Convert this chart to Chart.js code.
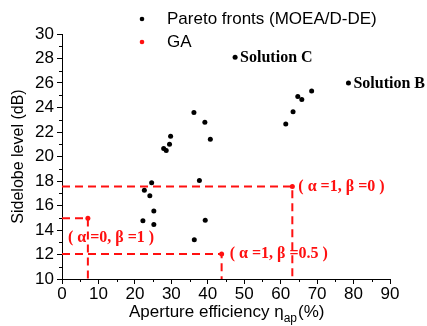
<!DOCTYPE html>
<html>
<head>
<meta charset="utf-8">
<script src="https://cdn.jsdelivr.net/npm/chart.js@4.4.1/dist/chart.umd.min.js"></script>
<style>
  html, body { margin: 0; padding: 0; background: #fff; }
  #wrap { width: 427px; height: 326px; }
</style>
</head>
<body>
<div id="wrap"><canvas id="chart" width="427" height="326"></canvas></div>
<script>
// Pareto fronts (MOEA/D-DE)
const paretoX = [47.5, 78.6, 64.7, 65.8, 68.5, 61.4, 63.4, 36.2, 39.2, 40.7, 27.9, 28.6, 29.5, 29.8, 37.7, 24.6, 22.6, 24.1, 25.2, 22.2, 25.2, 39.3, 36.3];
const paretoY = [28.1, 26.0, 24.9, 24.65, 25.35, 22.65, 23.65, 23.6, 22.8, 21.4, 20.65, 20.5, 21.0, 21.65, 18.05, 17.85, 17.25, 16.8, 15.55, 14.75, 14.45, 14.8, 13.2];

// GA solutions
const gaX = [7.1, 43.8, 63.2];
const gaY = [14.95, 12.05, 17.55];
const gaLabels = ['( α =0, β =1 )', '( α =1, β =0.5 )', '( α =1, β =0 )'];

const solutionLabels = [[0, 'Solution C'], [1, 'Solution B']];

const xTicks = [0, 10, 20, 30, 40, 50, 60, 70, 80, 90];
const yTicks = [10, 12, 14, 16, 18, 20, 22, 24, 26, 28, 30];

const RED = '#ff1010';
const SANS = '"Liberation Sans", Arial, sans-serif';
const SERIF = '"Liberation Serif", "Times New Roman", serif';

const pareto = paretoX.map((x, i) => ({ x, y: paretoY[i] }));
const ga = gaX.map((x, i) => ({ x, y: gaY[i] }));

// dashed guide lines: from y axis to the point, then down to the x axis
const guides = ga.map((p) => ({
  type: 'line',
  data: [{ x: xTicks[0], y: p.y }, { x: p.x, y: p.y }, { x: p.x, y: yTicks[0] }],
  showLine: true,
  borderColor: RED,
  borderWidth: 2,
  borderDash: [8, 5],
  pointRadius: 0,
  fill: false,
  tension: 0,
}));

const extras = {
  id: 'extras',
  afterDraw(c) {
    const { ctx, chartArea: a } = c;
    const xs = c.scales.x, ys = c.scales.y;
    ctx.save();

    // minor ticks
    ctx.strokeStyle = '#000';
    ctx.lineWidth = 1;
    ctx.beginPath();
    for (let i = 0; i < xTicks.length - 1; i++) {
      const px = Math.round(xs.getPixelForValue((xTicks[i] + xTicks[i + 1]) / 2)) + 0.5;
      ctx.moveTo(px, a.bottom);
      ctx.lineTo(px, a.bottom + 3);
    }
    for (let i = 0; i < yTicks.length - 1; i++) {
      const py = Math.round(ys.getPixelForValue((yTicks[i] + yTicks[i + 1]) / 2)) + 0.5;
      ctx.moveTo(a.left, py);
      ctx.lineTo(a.left - 3, py);
    }
    ctx.stroke();

    // legend
    ctx.textBaseline = 'middle';
    ctx.textAlign = 'left';
    ctx.font = '17px ' + SANS;
    ctx.fillStyle = '#000';
    ctx.beginPath(); ctx.arc(142, 19, 2.3, 0, Math.PI * 2); ctx.fill();
    ctx.fillText('Pareto fronts (MOEA/D-DE)', 167, 19);
    ctx.fillStyle = RED;
    ctx.beginPath(); ctx.arc(142, 42, 2.3, 0, Math.PI * 2); ctx.fill();
    ctx.fillStyle = '#000';
    ctx.fillText('GA', 167, 42);

    // solution labels
    ctx.font = 'bold 16px ' + SERIF;
    solutionLabels.forEach(([i, t]) => {
      ctx.fillText(t, xs.getPixelForValue(paretoX[i]) + 5, ys.getPixelForValue(paretoY[i]) + 1);
    });

    // GA labels
    ctx.fillStyle = RED;
    const offs = [[-20, 19], [8, 0], [6, 0]];
    ga.forEach((p, i) => {
      ctx.fillText(gaLabels[i], xs.getPixelForValue(p.x) + offs[i][0], ys.getPixelForValue(p.y) + offs[i][1]);
    });

    // axis titles
    ctx.fillStyle = '#000';
    ctx.textBaseline = 'alphabetic';
    const t1 = 'Aperture efficiency η', sub = 'ap', t2 = '(%)';
    ctx.font = '17px ' + SANS;
    const w1 = ctx.measureText(t1).width;
    ctx.font = '12px ' + SANS;
    const w2 = ctx.measureText(sub).width;
    const x0 = 129, base = 317;
    ctx.font = '17px ' + SANS;
    ctx.fillText(t1, x0, base);
    ctx.font = '12px ' + SANS;
    ctx.fillText(sub, x0 + w1, base + 5);
    ctx.font = '17px ' + SANS;
    ctx.fillText(t2, x0 + w1 + w2 + 1, base);

    ctx.translate(23, (a.top + a.bottom) / 2);
    ctx.rotate(-Math.PI / 2);
    ctx.textAlign = 'center';
    ctx.font = '16px ' + SANS;
    ctx.fillText('Sidelobe level (dB)', 0, 0);
    ctx.restore();
  },
};

new Chart(document.getElementById('chart'), {
  type: 'scatter',
  data: {
    datasets: [
      ...guides,
      { data: ga, backgroundColor: RED, borderColor: RED, pointRadius: 2.5, pointBorderWidth: 0 },
      { data: pareto, backgroundColor: '#000', borderColor: '#000', pointRadius: 2.5, pointBorderWidth: 0 },
    ],
  },
  options: {
    responsive: false,
    animation: false,
    layout: { padding: { top: 34, right: 37, left: 0, bottom: 0 } },
    plugins: { legend: { display: false }, tooltip: { enabled: false } },
    scales: {
      x: {
        type: 'linear',
        min: xTicks[0],
        max: xTicks[xTicks.length - 1],
        afterBuildTicks: (s) => { s.ticks = xTicks.map((v) => ({ value: v })); },
        afterFit: (s) => { s.height = 47; },
        ticks: { color: '#000', font: { family: SANS, size: 17 }, padding: 0, maxRotation: 0 },
        grid: { drawOnChartArea: false, tickLength: 5, tickColor: '#000', color: '#000' },
        border: { color: '#000', width: 1 },
      },
      y: {
        type: 'linear',
        min: yTicks[0],
        max: yTicks[yTicks.length - 1],
        afterBuildTicks: (s) => { s.ticks = yTicks.map((v) => ({ value: v })); },
        afterFit: (s) => { s.width = 62; },
        ticks: { color: '#000', font: { family: SANS, size: 17 }, padding: 3 },
        grid: { drawOnChartArea: false, tickLength: 5, tickColor: '#000', color: '#000' },
        border: { color: '#000', width: 1 },
      },
    },
  },
  plugins: [extras],
});
</script>
</body>
</html>
